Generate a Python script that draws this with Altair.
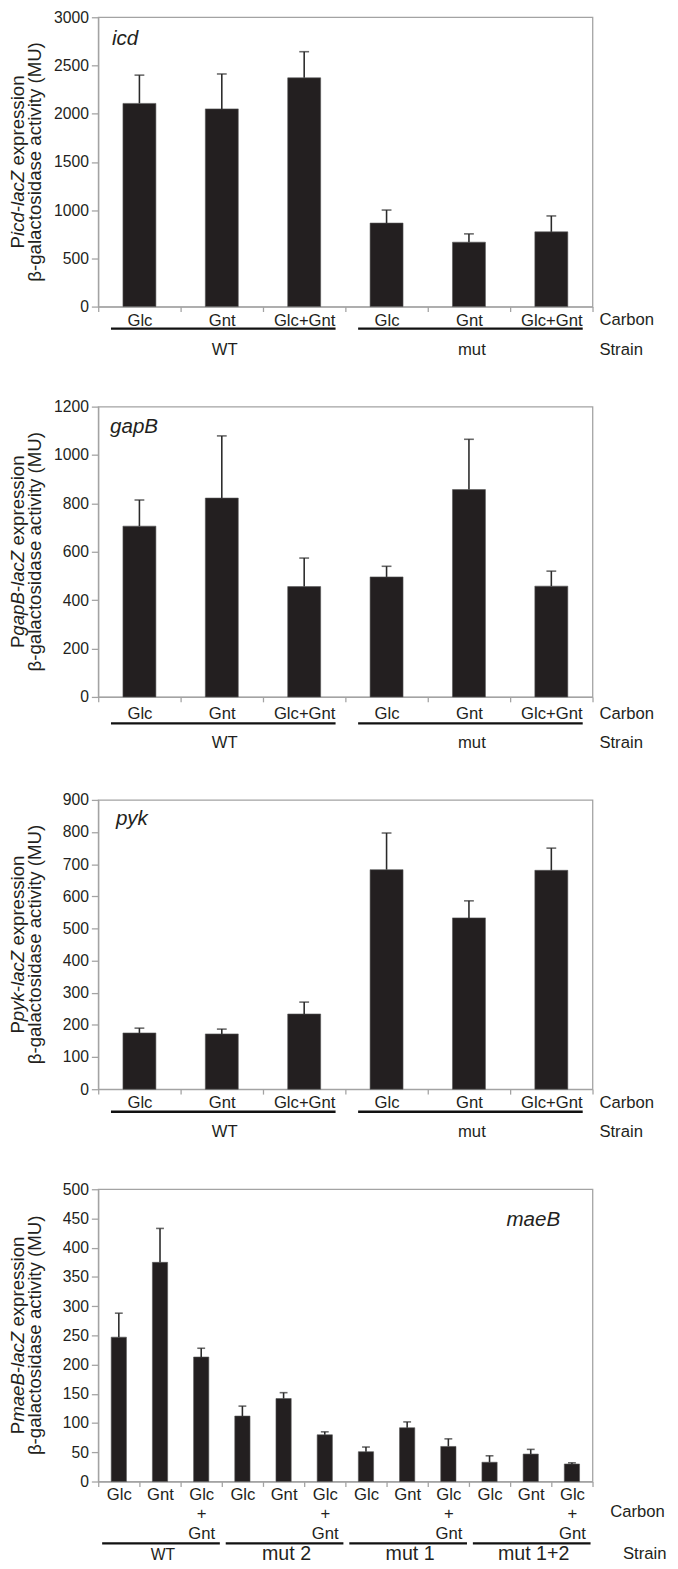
import altair as alt
import pandas as pd

FONT = "Liberation Sans"
INK = "#231f20"
FRAME = "#a3a3a3"

# ---------------- data ----------------
carbon3 = ["Glc", "Gnt", "Glc+Gnt"]
carbon3_stacked = ["Glc", "Gnt", "Glc~+~Gnt"]

icd_strain = ["WT", "WT", "WT", "mut", "mut", "mut"]
icd_carbon = carbon3 * 2
icd_mean = [2107, 2050, 2372, 866, 668, 775]
icd_sd = [293, 362, 271, 135, 86, 165]

gapB_strain = ["WT", "WT", "WT", "mut", "mut", "mut"]
gapB_carbon = carbon3 * 2
gapB_mean = [706, 822, 456, 496, 857, 458]
gapB_sd = [108, 257, 118, 44, 208, 62]

pyk_strain = ["WT", "WT", "WT", "mut", "mut", "mut"]
pyk_carbon = carbon3 * 2
pyk_mean = [175, 172, 234, 683, 533, 681]
pyk_sd = [15, 15, 37, 114, 53, 69]

maeB_strain = ["WT"] * 3 + ["mut 2"] * 3 + ["mut 1"] * 3 + ["mut 1+2"] * 3
maeB_carbon = carbon3_stacked * 4
maeB_mean = [247, 375, 213, 112, 142, 80, 51, 92, 60, 33, 47, 30]
maeB_sd = [41, 58, 15, 17, 10, 5, 8, 10, 13, 11, 8, 2]

# Arial / Liberation Sans advance widths (1/1000 em) for title layout
ADV = {' ': 278, 'P': 667, 'i': 222, 'c': 500, 'd': 556, '-': 333, 'l': 222,
       'a': 556, 'Z': 611, 'e': 556, 'x': 500, 'p': 556, 'r': 333, 's': 500,
       'o': 556, 'n': 556, 'g': 556, 'B': 667, 'y': 500, 'k': 500, 'm': 833}


def tw(s, fs):
    return sum(ADV.get(ch, 556) for ch in s) * fs / 1000.0


W = 504
TFS = 19  # y title font size

LABEL_EXPR = ("isString(datum.value) && indexof(datum.value, '|') >= 0 ? "
              "split(split(datum.value, '|')[1], '~') : ''")


def panel(gene, strains, carbons, means, sds, ymax, ystep, H, bar_frac, cap,
          gene_x, gene_y, gene_align, lab_off, line_off, strain_off,
          carbon_off, strain_lab_off, side_x_c, side_x_s, line_in, strain_fs,
          line_h=20):
    n = len(means)
    ids = [f"{i:02d}|{c}" for i, c in enumerate(carbons)]
    df = pd.DataFrame({"id": ids, "mean": means, "sd": sds, "strain": strains})
    df["top"] = df["mean"] + df["sd"]

    xscale = alt.Scale(paddingInner=0, paddingOuter=0)
    xaxis = alt.Axis(title=None, labelAngle=0, tickBand="extent", tickSize=5,
                     labelPadding=lab_off - 5, labelBaseline="alphabetic",
                     labelFontSize=17, labelLineHeight=line_h, labelOverlap=False,
                     labelExpr=LABEL_EXPR)
    yscale = alt.Scale(domain=[0, ymax], nice=False, zero=True)
    yvals = list(range(0, ymax + 1, ystep))
    yaxis = alt.Axis(title=None, grid=False, values=yvals, tickCount=len(yvals),
                     format="d", labelOverlap=False, labelFlush=False,
                     tickSize=7, labelPadding=3, labelFontSize=16)

    base = alt.Chart(df)
    bars = base.mark_bar(width=alt.RelativeBandSize(bar_frac), color=INK,
                         stroke="#555555", strokeWidth=0.6).encode(
        x=alt.X("id:N", sort=ids, scale=xscale, axis=xaxis),
        y=alt.Y("mean:Q", scale=yscale, axis=yaxis),
    )
    err = base.mark_rule(color="#2a2a2a", strokeWidth=1.6).encode(
        x=alt.X("id:N", sort=ids, scale=xscale, axis=xaxis),
        y=alt.Y("mean:Q", scale=yscale, axis=yaxis),
        y2="top:Q",
    )
    caps = base.mark_tick(color="#2a2a2a", size=cap, thickness=1.6,
                          orient="horizontal").encode(
        x=alt.X("id:N", sort=ids, scale=xscale, axis=xaxis),
        y=alt.Y("top:Q", scale=yscale, axis=yaxis),
    )

    step = W / n
    groups = []
    for s in dict.fromkeys(strains):
        idx = [i for i, v in enumerate(strains) if v == s]
        groups.append((s, idx[0], idx[-1], ids[(idx[0] + idx[-1]) // 2]))
    lines = []
    for s, a, b, mid in groups:
        lines.append(alt.Chart(pd.DataFrame({"s": [s]})).mark_rule(
            color="#111111", strokeWidth=2.4).encode(
            x=alt.value(a * step + line_in[0]),
            x2=alt.value((b + 1) * step - line_in[1]),
            y=alt.value(H + line_off)))
    sdf = pd.DataFrame({"mid": [g[3] for g in groups], "label": [g[0] for g in groups],
                        "fs": [strain_fs(g[0]) for g in groups]})
    slabels = alt.Chart(sdf).mark_text(font=FONT, color=INK, baseline="alphabetic",
                                       align="center", dx=3).encode(
        x=alt.X("mid:N", sort=ids, scale=xscale, axis=xaxis),
        y=alt.value(H + strain_off),
        text="label:N",
        size=alt.Size("fs:Q", scale=None, legend=None),
    )
    side = alt.Chart(pd.DataFrame({"t": ["Carbon", "Strain"],
                                   "xx": [W + side_x_c, W + side_x_s],
                                   "yy": [H + carbon_off, H + strain_lab_off]})).mark_text(
        font=FONT, fontSize=17, color=INK, align="left", baseline="alphabetic").encode(
        x=alt.X("xx:Q", scale=None, axis=None), y=alt.Y("yy:Q", scale=None, axis=None),
        text="t:N")

    gl = alt.Chart(pd.DataFrame({"g": [gene]})).mark_text(
        font=FONT, fontSize=21, fontStyle="italic", color=INK, align=gene_align,
        baseline="alphabetic").encode(x=alt.value(gene_x), y=alt.value(gene_y), text="g:N")

    ital = gene + "-lacZ"
    total = tw("P", TFS) + tw(ital, TFS) + tw(" ", TFS) + tw("expression", TFS)
    start = H / 2 + total / 2
    tparts = [("P", start, "normal"),
              (ital, start - tw("P", TFS), "italic"),
              ("expression", start - tw("P", TFS) - tw(ital, TFS) - tw(" ", TFS), "normal")]
    titles = []
    for txt, yy, style in tparts:
        titles.append(alt.Chart(pd.DataFrame({"t": [txt]})).mark_text(
            font=FONT, fontSize=TFS, fontStyle=style, color=INK, angle=270,
            align="left", baseline="alphabetic").encode(
            x=alt.value(-76), y=alt.value(yy), text="t:N"))
    titles.append(alt.Chart(pd.DataFrame({"t": ["β-galactosidase activity (MU)"]})).mark_text(
        font=FONT, fontSize=TFS, color=INK, angle=270, align="center",
        baseline="alphabetic").encode(x=alt.value(-58), y=alt.value(H / 2), text="t:N"))

    return alt.layer(bars, err, caps, *lines, slabels, side, gl, *titles).properties(
        width=W, height=H)


p1 = panel("icd", icd_strain, icd_carbon, icd_mean, icd_sd, 3000, 500, 295, 0.40, 10,
           14, 28, "left", 19, 22.5, 49, 19, 49, 7, 7, (13, 10), lambda s: 17)
p2 = panel("gapB", gapB_strain, gapB_carbon, gapB_mean, gapB_sd, 1200, 200, 296, 0.40, 10,
           12, 27, "left", 22, 27, 52, 22, 52, 7, 7, (13, 10), lambda s: 17)
p3 = panel("pyk", pyk_strain, pyk_carbon, pyk_mean, pyk_sd, 900, 100, 295, 0.40, 10,
           18, 26, "left", 19, 23, 49, 19, 49, 7, 7, (13, 10), lambda s: 17)
p4 = panel("maeB", maeB_strain, maeB_carbon, maeB_mean, maeB_sd, 500, 50, 298, 0.37, 8,
           471, 37, "right", 18, 63, 80, 36, 79, 18, 31, (4, 2),
           lambda s: 16 if s == "WT" else 20)

chart = alt.vconcat(p1, p2, p3, p4, spacing=40).properties(
    padding={"left": 0, "top": -15, "right": 2, "bottom": 2}
).configure_view(
    stroke=FRAME, strokeWidth=1.3
).configure_axis(
    domainColor=FRAME, tickColor=FRAME, domainWidth=1.3, tickWidth=1.3,
    labelFont=FONT, labelColor=INK
).configure_text(font=FONT)

chart.save("out.html", embed_options={"renderer": "svg", "actions": False})
